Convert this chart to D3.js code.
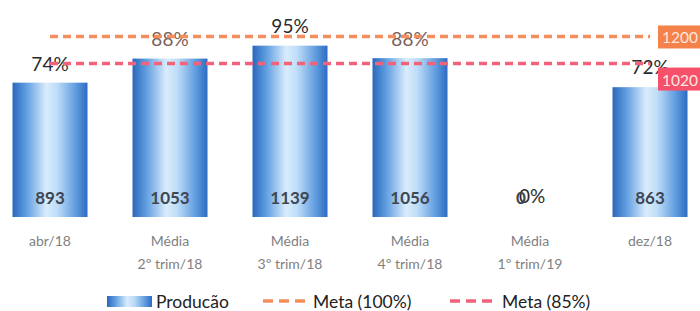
<!DOCTYPE html>
<html>
<head>
<meta charset="utf-8">
<script src="https://cdn.jsdelivr.net/npm/d3@7"></script>
<style>
  body { margin: 0; background: #ffffff; }
  svg { display: block; }
</style>
</head>
<body>
<div id="chart"></div>
<script>
let width = 700;
let height = 311;

let categories = [["abr/18"], ["Média", "2º trim/18"], ["Média", "3º trim/18"], ["Média", "4º trim/18"], ["Média", "1º trim/19"], ["dez/18"]];
let producao = [893, 1053, 1139, 1056, 0, 863];
let percentual = [0.74, 0.88, 0.95, 0.88, 0, 0.72];
let meta100 = [1200, 1200, 1200, 1200, 1200, 1200];
let meta85 = [1020, 1020, 1020, 1020, 1020, 1020];
let legendItems = ["Producão", "Meta (100%)", "Meta (85%)"];

let font = "Lato, 'Open Sans', sans-serif";
let orange = "#f58d5c";
let pink = "#f2637b";

let svg = d3.select("#chart")
  .append("svg")
  .attr("width", width)
  .attr("height", height)
  .style("background-color", "#ffffff");

let xscale = d3.scaleBand()
  .domain(d3.range(categories.length))
  .range([-10, 710])
  .paddingInner(0.375)
  .paddingOuter(0.1875);

let yscale = d3.scaleLinear()
  .domain([0, 1400])
  .range([217, 6.4]);

// secondary axis for the percent labels
let y2scale = d3.scaleLinear()
  .domain([0, 1])
  .range([195, 17.1]);

let defs = svg.append("defs");
let grad = defs.append("linearGradient")
  .attr("id", "barGrad")
  .attr("x1", "0%").attr("x2", "100%").attr("y1", "0%").attr("y2", "0%");
grad.append("stop").attr("offset", "0%").attr("stop-color", "#2a67bd");
grad.append("stop").attr("offset", "18%").attr("stop-color", "#5f9de0");
grad.append("stop").attr("offset", "45%").attr("stop-color", "#d9ecfb");
grad.append("stop").attr("offset", "60%").attr("stop-color", "#bcdcf7");
grad.append("stop").attr("offset", "85%").attr("stop-color", "#5d9ade");
grad.append("stop").attr("offset", "100%").attr("stop-color", "#2c6bc2");

// bars
svg.append("g")
  .selectAll("rect")
  .data(producao)
  .enter()
  .append("rect")
  .attr("x", (d, i) => xscale(i))
  .attr("y", d => yscale(d))
  .attr("width", xscale.bandwidth())
  .attr("height", d => yscale(0) - yscale(d))
  .attr("fill", "url(#barGrad)")
  .attr("opacity", d => d > 0 ? 1 : 0);

// percent labels (drawn before the meta lines so the dashes cross them)
svg.append("g")
  .selectAll("text")
  .data(percentual)
  .enter()
  .append("text")
  .attr("x", (d, i) => xscale(i) + xscale.bandwidth() / 2 + (d === 0 ? 2 : 0))
  .attr("y", d => y2scale(d))
  .attr("text-anchor", "middle")
  .attr("dominant-baseline", "central")
  .attr("font-family", font)
  .attr("font-size", 19)
  .attr("fill", d => Math.abs(d - 0.88) < 0.001 ? "#7a625a" : "#2b2b2b")
  .text(d => Math.round(d * 100) + "%");

// meta lines
let line = d3.line()
  .x((d, i) => xscale(i) + xscale.bandwidth() / 2)
  .y(d => yscale(d));

svg.append("path")
  .attr("d", line(meta100))
  .attr("fill", "none")
  .attr("stroke", orange)
  .attr("stroke-width", 3.5)
  .attr("stroke-dasharray", "8,5");

svg.append("path")
  .attr("d", line(meta85))
  .attr("fill", "none")
  .attr("stroke", pink)
  .attr("stroke-width", 3.5)
  .attr("stroke-dasharray", "8,5");

// end tags for the meta lines
let tags = [
  { v: meta100[meta100.length - 1], color: "#f5824a", dy: 0 },
  { v: meta85[meta85.length - 1], color: "#f6506a", dy: 15 }
];
let tagG = svg.append("g")
  .selectAll("g")
  .data(tags)
  .enter()
  .append("g")
  .attr("transform", d => `translate(658, ${yscale(d.v) - 11 + d.dy})`);
tagG.append("rect")
  .attr("width", 50)
  .attr("height", 23)
  .attr("fill", d => d.color);
tagG.append("text")
  .attr("x", 4)
  .attr("y", 12)
  .attr("dominant-baseline", "central")
  .attr("font-family", font)
  .attr("font-size", 15.5)
  .attr("fill", "#fde8e0")
  .text(d => d.v);

// value labels inside bars
svg.append("g")
  .selectAll("text")
  .data(producao)
  .enter()
  .append("text")
  .attr("x", (d, i) => xscale(i) + xscale.bandwidth() / 2 - (d === 0 ? 9 : 0))
  .attr("y", 197)
  .attr("text-anchor", "middle")
  .attr("dominant-baseline", "central")
  .attr("font-family", font)
  .attr("font-size", 17)
  .attr("font-weight", "bold")
  .attr("fill", "#3e4653")
  .text(d => d);

// category labels
let catG = svg.append("g")
  .selectAll("text")
  .data(categories)
  .enter()
  .append("text")
  .attr("x", (d, i) => xscale(i) + xscale.bandwidth() / 2)
  .attr("y", 241)
  .attr("text-anchor", "middle")
  .attr("font-family", font)
  .attr("font-size", 14)
  .attr("fill", "#808080");
catG.selectAll("tspan")
  .data(d => d)
  .enter()
  .append("tspan")
  .attr("x", function () { return this.parentNode.getAttribute("x"); })
  .attr("dy", (d, i) => i === 0 ? "0.35em" : 23)
  .text(d => d);

// legend
let legend = svg.append("g").attr("transform", "translate(0, 301)");
legend.append("rect")
  .attr("x", 107).attr("y", -5)
  .attr("width", 45).attr("height", 11)
  .attr("fill", "url(#barGrad)");
legend.append("line")
  .attr("x1", 263).attr("x2", 309).attr("y1", 0).attr("y2", 0)
  .attr("stroke", orange).attr("stroke-width", 3.5).attr("stroke-dasharray", "10,6");
legend.append("line")
  .attr("x1", 450).attr("x2", 496).attr("y1", 0).attr("y2", 0)
  .attr("stroke", pink).attr("stroke-width", 3.5).attr("stroke-dasharray", "10,6");
legend.selectAll("text")
  .data(legendItems)
  .enter()
  .append("text")
  .attr("x", (d, i) => [156, 313, 502][i])
  .attr("y", 0)
  .attr("dominant-baseline", "central")
  .attr("font-family", font)
  .attr("font-size", 17.5)
  .attr("fill", "#222222")
  .text(d => d);
</script>
</body>
</html>
